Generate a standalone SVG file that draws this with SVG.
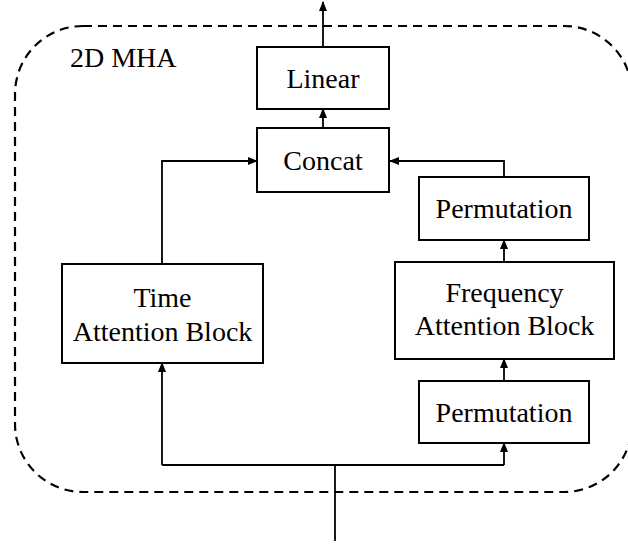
<svg xmlns="http://www.w3.org/2000/svg" width="628" height="546" viewBox="0 0 628 546">
  <style>
    .box { fill: #ffffff; stroke: #000000; stroke-width: 2; }
    .lbl { font-family: 'Liberation Serif', 'DejaVu Serif', serif; font-size: 28px; fill: #000000; text-anchor: middle; }
    .wire { fill: none; stroke: #000000; stroke-width: 1.8; }
    .frame { fill: none; stroke: #000000; stroke-width: 2.2; stroke-dasharray: 9 6; }
  </style>
  <defs>
    <marker id="arrow" markerUnits="userSpaceOnUse" markerWidth="10" markerHeight="8" refX="9" refY="4" orient="auto">
      <path d="M0,0 L10,4 L0,8 z" fill="#000000"/>
    </marker>
  </defs>
  <rect width="628" height="546" fill="#ffffff"/>

  <!-- dashed module boundary -->
  <g id="mha-frame">
    <rect class="frame" x="15" y="26" width="617" height="466" rx="68" ry="68"/>
    <text class="lbl" font-family="Liberation Serif, serif" x="70" y="67" style="text-anchor:start">2D MHA</text>
  </g>

  <!-- connectors -->
  <g id="connectors">
    <!-- output -->
    <line class="wire" x1="323" y1="47" x2="323" y2="2" marker-end="url(#arrow)"/>
    <!-- concat to linear -->
    <line class="wire" x1="323" y1="128" x2="323" y2="109" marker-end="url(#arrow)"/>
    <!-- time branch into concat -->
    <polyline class="wire" points="162,264 162,161 257,161" marker-end="url(#arrow)"/>
    <!-- frequency branch into concat -->
    <polyline class="wire" points="504,177 504,161 390,161" marker-end="url(#arrow)"/>
    <!-- frequency block to permutation -->
    <line class="wire" x1="504" y1="262" x2="504" y2="240" marker-end="url(#arrow)"/>
    <!-- permutation to frequency block -->
    <line class="wire" x1="504" y1="381" x2="504" y2="359" marker-end="url(#arrow)"/>
    <!-- input split -->
    <line class="wire" x1="335" y1="541" x2="335" y2="465"/>
    <line class="wire" x1="162" y1="465" x2="504" y2="465"/>
    <line class="wire" x1="162" y1="465" x2="162" y2="363" marker-end="url(#arrow)"/>
    <line class="wire" x1="504" y1="465" x2="504" y2="443" marker-end="url(#arrow)"/>
  </g>

  <g id="linear">
    <rect class="box" x="257" y="47" width="132" height="62"/>
    <text class="lbl" x="323" y="88">Linear</text>
  </g>

  <g id="concat">
    <rect class="box" x="257" y="128" width="132" height="64"/>
    <text class="lbl" x="323" y="170">Concat</text>
  </g>

  <g id="permutation-out">
    <rect class="box" x="419" y="177" width="170" height="63"/>
    <text class="lbl" x="504" y="218">Permutation</text>
  </g>

  <g id="time-attention">
    <rect class="box" x="62" y="264" width="201" height="99"/>
    <text class="lbl" x="162.5" y="307">Time</text>
    <text class="lbl" x="162.5" y="341">Attention Block</text>
  </g>

  <g id="frequency-attention">
    <rect class="box" x="395" y="262" width="219" height="97"/>
    <text class="lbl" x="504.5" y="302">Frequency</text>
    <text class="lbl" x="504.5" y="335">Attention Block</text>
  </g>

  <g id="permutation-in">
    <rect class="box" x="419" y="381" width="170" height="62"/>
    <text class="lbl" x="504" y="422">Permutation</text>
  </g>
</svg>
